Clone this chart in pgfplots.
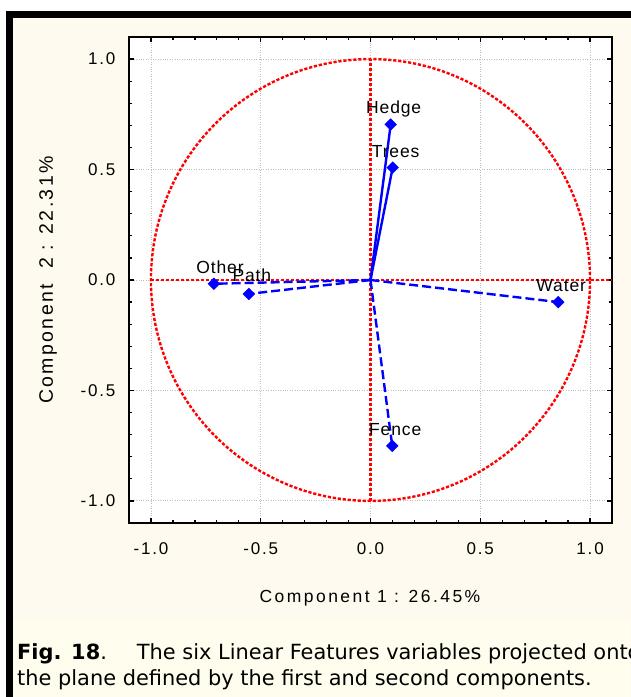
\documentclass[border=0pt]{standalone}
\usepackage{pgfplots}
\pgfplotsset{compat=1.18}
\usepackage{fontspec}
\setmainfont{Liberation Sans}
\newfontfamily\tickfont[LetterSpace=11]{Liberation Sans}
\newfontfamily\labfont[LetterSpace=5]{Liberation Sans}
\newfontfamily\xlabfont[LetterSpace=14]{Liberation Sans}
\newfontfamily\ylabfont[LetterSpace=12]{Liberation Sans}
\newfontfamily\capfont{DejaVu Sans}
\definecolor{cream}{RGB}{255,250,239}
\definecolor{capcream}{RGB}{255,254,238}
\definecolor{vblue}{RGB}{0,0,255}
\definecolor{vred}{RGB}{255,0,0}
\tikzset{
  lab/.style={font=\labfont\fontsize{17.5}{20}\selectfont, anchor=base, xshift=3pt, yshift=10.5pt, text=black},
  vec/.style={vblue, line width=2.4pt, mark=square*, mark size=3.2pt, mark options={rotate=45, solid, fill=vblue}},
  dvec/.style={vec, dash pattern=on 9pt off 4pt},
  reddash/.style={vred, line width=2.4pt, dash pattern=on 3.2pt off 1.8pt},
}
\begin{document}
\begin{tikzpicture}
\useasboundingbox (0,0) rectangle (630pt,697pt);
\fill[white] (0,0) rectangle (630pt,697pt);
\filldraw[draw=black, fill=cream, line width=7pt] (9.5pt,-20pt) rectangle (700pt,682.5pt);
\fill[capcream] (13pt,0pt) rectangle (630pt,77pt);
\begin{axis}[
  at={(129pt,174pt)}, anchor=south west,
  scale only axis, width=483pt, height=486pt,
  xmin=-1.1, xmax=1.1, ymin=-1.1, ymax=1.1,
  xtick={-1,-0.5,0,0.5,1}, ytick={-1,-0.5,0,0.5,1},
  minor tick num=4,
  tick align=inside,
  major tick length=5pt, minor tick length=3pt,
  every tick/.style={black, line width=1.3pt},
  axis line style={line width=1.8pt},
  grid=major, major grid style={black!25, dotted, line width=0.9pt},
  axis background/.style={fill=white},
  xticklabel style={font=\tickfont\fontsize{17}{20}\selectfont, yshift=-16pt,
    /pgf/number format/fixed, /pgf/number format/fixed zerofill, /pgf/number format/precision=1, /pgf/number format/assume math mode=true},
  yticklabel style={font=\tickfont\fontsize{17}{20}\selectfont, xshift=-10pt,
    /pgf/number format/fixed, /pgf/number format/fixed zerofill, /pgf/number format/precision=1, /pgf/number format/assume math mode=true},
  clip=false,
]
\draw[reddash] (axis cs:0,0) circle [radius=1];
\draw[reddash] (axis cs:-1,0) -- (axis cs:1.1,0);
\draw[reddash] (axis cs:0,-1) -- (axis cs:0,1);
\addplot[vec, mark indices={2}] coordinates {(0,0) (0.092,0.704)} node[lab, pos=1] {Hedge};
\addplot[vec, mark indices={2}] coordinates {(0,0) (0.101,0.509)} node[lab, pos=1] {Trees};
\addplot[dvec, mark indices={2}] coordinates {(0,0) (-0.713,-0.017)} node[lab, pos=1, xshift=3pt] {Other};
\addplot[dvec, mark indices={2}] coordinates {(0,0) (-0.554,-0.063)} node[lab, pos=1, yshift=2pt] {Path};
\addplot[dvec, mark indices={2}] coordinates {(0,0) (0.855,-0.100)} node[lab, pos=1] {Water};
\addplot[dvec, mark indices={2}] coordinates {(0,0) (0.099,-0.751)} node[lab, pos=1] {Fence};
\end{axis}
\node[font=\xlabfont\fontsize{17.5}{20}\selectfont, anchor=base] at (370pt,94pt) {Component 1 : 26.45\%};
\node[font=\ylabfont\fontsize{19.5}{22}\selectfont, rotate=90] at (48pt,417pt) {Component\ \ 2 : 22.31\%};
\node[anchor=base west, font=\capfont\fontsize{20.9}{24}\selectfont, inner sep=0pt] at (17pt,37pt) {\textbf{Fig. 18}.\hspace{30pt}The six Linear Features variables projected onto};
\node[anchor=base west, font=\capfont\fontsize{20.9}{24}\selectfont, inner sep=0pt] at (17pt,11pt) {the plane defined by the first and second components.};
\end{tikzpicture}
\end{document}
